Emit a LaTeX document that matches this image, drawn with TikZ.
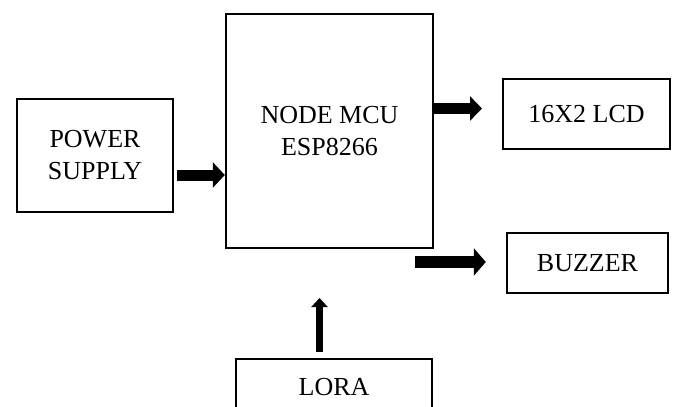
\documentclass[tikz,border=0pt]{standalone}
\usepackage{fontspec}
\setmainfont{Liberation Serif}
\usepackage{tikz}
\usetikzlibrary{arrows.meta}

\tikzset{
  block/.style={draw, line width=1.2pt, align=center, inner sep=0pt,
    font=\fontsize{13}{16}\selectfont},
  fat/.style={line width=5.5pt, -{Triangle[length=6pt,width=12pt]}}
}

\begin{document}
\begin{tikzpicture}[x=0.5pt,y=-0.5pt]

\useasboundingbox (0,0) rectangle (675,407);

%blocks
\node[block, minimum width=78pt, minimum height=56.5pt]  (ps)  at (95,155.5)  {POWER\\SUPPLY};
\node[block, minimum width=103.5pt, minimum height=117pt] (mcu) at (329.5,131) {NODE MCU\\ESP8266};
\node[block, minimum width=83.5pt, minimum height=35pt]  (lcd) at (586.5,114)  {16X2 LCD};		%top right
\node[block, minimum width=80.5pt, minimum height=30pt]  (bz)  at (587.5,263)  {BUZZER};		%bottom right
\node[block, minimum width=98pt, minimum height=28pt]    (lora) at (334,387)   {LORA};			%bottom, cut off

%free ends of the arrows
\coordinate (psout) at (177,175);
\coordinate (lcdin) at (482,108.5);
\coordinate (bzout) at (415,262);
\coordinate (lrin)  at (319.5,298);

%arrows
\draw[fat, -{Triangle[length=6pt,width=12.5pt]}] (psout) -- (psout -| mcu.west);
\draw[fat] (lcdin -| mcu.east) -- (lcdin);
\draw[fat, line width=6pt, -{Triangle[length=6pt,width=13.5pt]}, shorten >=10pt] (bzout) -- (bzout -| bz.west);
\draw[fat, line width=3.8pt, -{Triangle[length=4.5pt,width=8pt]}, shorten <=3pt] (lrin |- lora.north) -- (lrin);

\end{tikzpicture}
\end{document}
